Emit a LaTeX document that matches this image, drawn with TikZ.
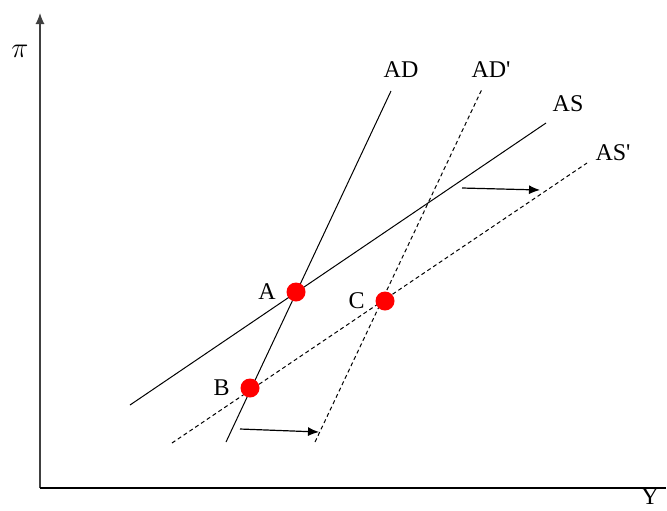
\documentclass[tikz,border=0pt]{standalone}
\usepackage{fontspec}
\setmainfont{Liberation Serif}
\usepackage{tikz}
\usetikzlibrary{arrows.meta,positioning}
\definecolor{PointRed}{HTML}{FF0000}
\tikzset{
    curve/.style={line width=0.5pt, black},
    shifted/.style={curve, dash pattern=on 2pt off 1.5pt},
    eqpoint/.style={circle, fill=PointRed, inner sep=0pt, minimum size=9.5pt},
    lbl/.style={font=\fontsize{12}{14}\selectfont, inner sep=1pt}
}

\begin{document}
\begin{tikzpicture}[>={Latex[length=5.5pt,width=4.5pt]}, x=0.5pt, y=-0.5pt]
    \useasboundingbox (0,0) rectangle (667,510);

    % Axes
    \coordinate (O) at (40,488);
    \coordinate (ytop) at (40,13);
    \coordinate (xend) at (666,488);
    \draw[->, line width=0.6pt, black!75] (O) -- (ytop);
    \draw[line width=0.6pt] (O) -- (xend);
    \node[lbl, font=\fontsize{14}{16}\selectfont] (pi) at (20,51) {$\pi$};
    \node[lbl] (Y) at (650,497) {Y};

    % Aggregate demand (solid) and shifted demand (dashed)
    \coordinate (ad0) at (226,442);
    \coordinate (ad1) at (391,91);
    \draw[curve] (ad0) -- (ad1);
    \node[lbl] (AD) at (401,70) {AD};
    \coordinate (adp0) at (315,442);
    \coordinate (adp1) at (482,89);
    \draw[shifted] (adp0) -- (adp1);
    \node[lbl] (ADp) at (491,70) {AD\textquotesingle};

    % Aggregate supply (solid) and shifted supply (dashed)
    \coordinate (as0) at (130,405);
    \coordinate (as1) at (546,123);
    \draw[curve] (as0) -- (as1);
    \node[lbl] (AS) at (568,104) {AS};
    \coordinate (asp0) at (172,443);
    \coordinate (asp1) at (587,163);
    \draw[shifted] (asp0) -- (asp1);
    \node[lbl] (ASp) at (613,153) {AS\textquotesingle};

    % Shift arrows
    \coordinate (sa0) at (462,188);
    \coordinate (sa1) at (540,190);
    \draw[->, line width=0.6pt] (sa0) -- (sa1);
    \coordinate (da0) at (240,429);
    \coordinate (da1) at (319,432);
    \draw[->, line width=0.6pt] (da0) -- (da1);

    % Equilibrium points
    \node[eqpoint] (A) at (296,292) {};
    \node[lbl, left=4pt of A] (Alab) {A};
    \node[eqpoint] (C) at (385,301) {};
    \node[lbl, left=4pt of C] (Clab) {C};
    \node[eqpoint] (B) at (250,388) {};
    \node[lbl, left=4pt of B] (Blab) {B};

\end{tikzpicture}
\end{document}
